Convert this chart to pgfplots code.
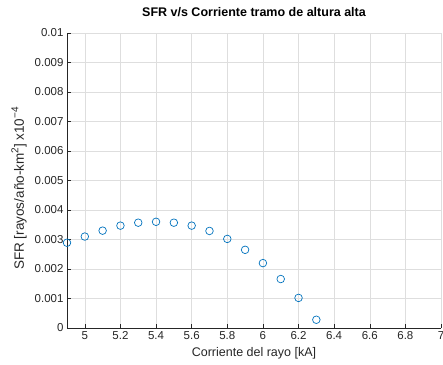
\documentclass[border=0pt]{standalone}
\usepackage{pgfplots}
\pgfplotsset{compat=1.18}
\usepackage{fontspec}
\setmainfont{Liberation Sans}
\definecolor{mblue}{rgb}{0,0.447,0.741}
\definecolor{axgray}{rgb}{0.15,0.15,0.15}
\definecolor{gridgray}{rgb}{0.87,0.87,0.87}
\newcommand{\sups}[1]{\raisebox{0.42em}{\fontsize{10bp}{10bp}\selectfont #1}}
\begin{document}
\begin{tikzpicture}
\useasboundingbox (0,0) rectangle (443bp,365bp);
\begin{axis}[
  at={(67bp,37bp)}, anchor=south west,
  scale only axis, width=374bp, height=295bp,
  xmin=4.9, xmax=7, ymin=0, ymax=0.01,
  axis lines*=left,
  axis line style={axgray, line width=0.6bp},
  xtick={5,5.2,5.4,5.6,5.8,6,6.2,6.4,6.6,6.8,7},
  ytick={0,0.001,0.002,0.003,0.004,0.005,0.006,0.007,0.008,0.009,0.01},
  scaled y ticks=false,
  /pgf/number format/assume math mode=true,
  xticklabel style={/pgf/number format/fixed, /pgf/number format/precision=1},
  yticklabel style={/pgf/number format/fixed, /pgf/number format/precision=3},
  tick label style={font=\fontsize{11.5bp}{13bp}\selectfont, text=axgray},
  xtick pos=bottom, ytick pos=left,
  tick align=inside, major tick length=4bp,
  tick style={axgray, line width=0.5bp},
  grid=major,
  major grid style={gridgray, line width=0.5bp},
  clip=false,
  title={\bfseries SFR v/s Corriente tramo de altura alta},
  title style={font=\fontsize{12.5bp}{14bp}\selectfont, at={(axis description cs:0.5,1)}, anchor=center, yshift=15bp, text=black},
  xlabel={Corriente del rayo [kA]},
  ylabel={SFR [rayos/año-km\sups{2}] x10\sups{−4}},
  every axis x label/.style={at={(axis description cs:0.5,0)}, anchor=center, yshift=-25bp, font=\fontsize{12.5bp}{14bp}\selectfont, text=axgray},
  every axis y label/.style={at={(axis description cs:0,0.5)}, anchor=center, xshift=-48bp, yshift=-8bp, rotate=90, font=\fontsize{13.5bp}{15bp}\selectfont, text=axgray},
]
\addplot[only marks, mark=o, mark size=3.8bp, mark options={mblue, line width=0.7bp}] coordinates {
(4.9,0.00289) (5.0,0.00310) (5.1,0.00330) (5.2,0.00347) (5.3,0.00357)
(5.4,0.00360) (5.5,0.00357) (5.6,0.00347) (5.7,0.00329) (5.8,0.00302)
(5.9,0.00265) (6.0,0.00220) (6.1,0.00166) (6.2,0.00102) (6.3,0.00028)
};
\end{axis}
\end{tikzpicture}
\end{document}
